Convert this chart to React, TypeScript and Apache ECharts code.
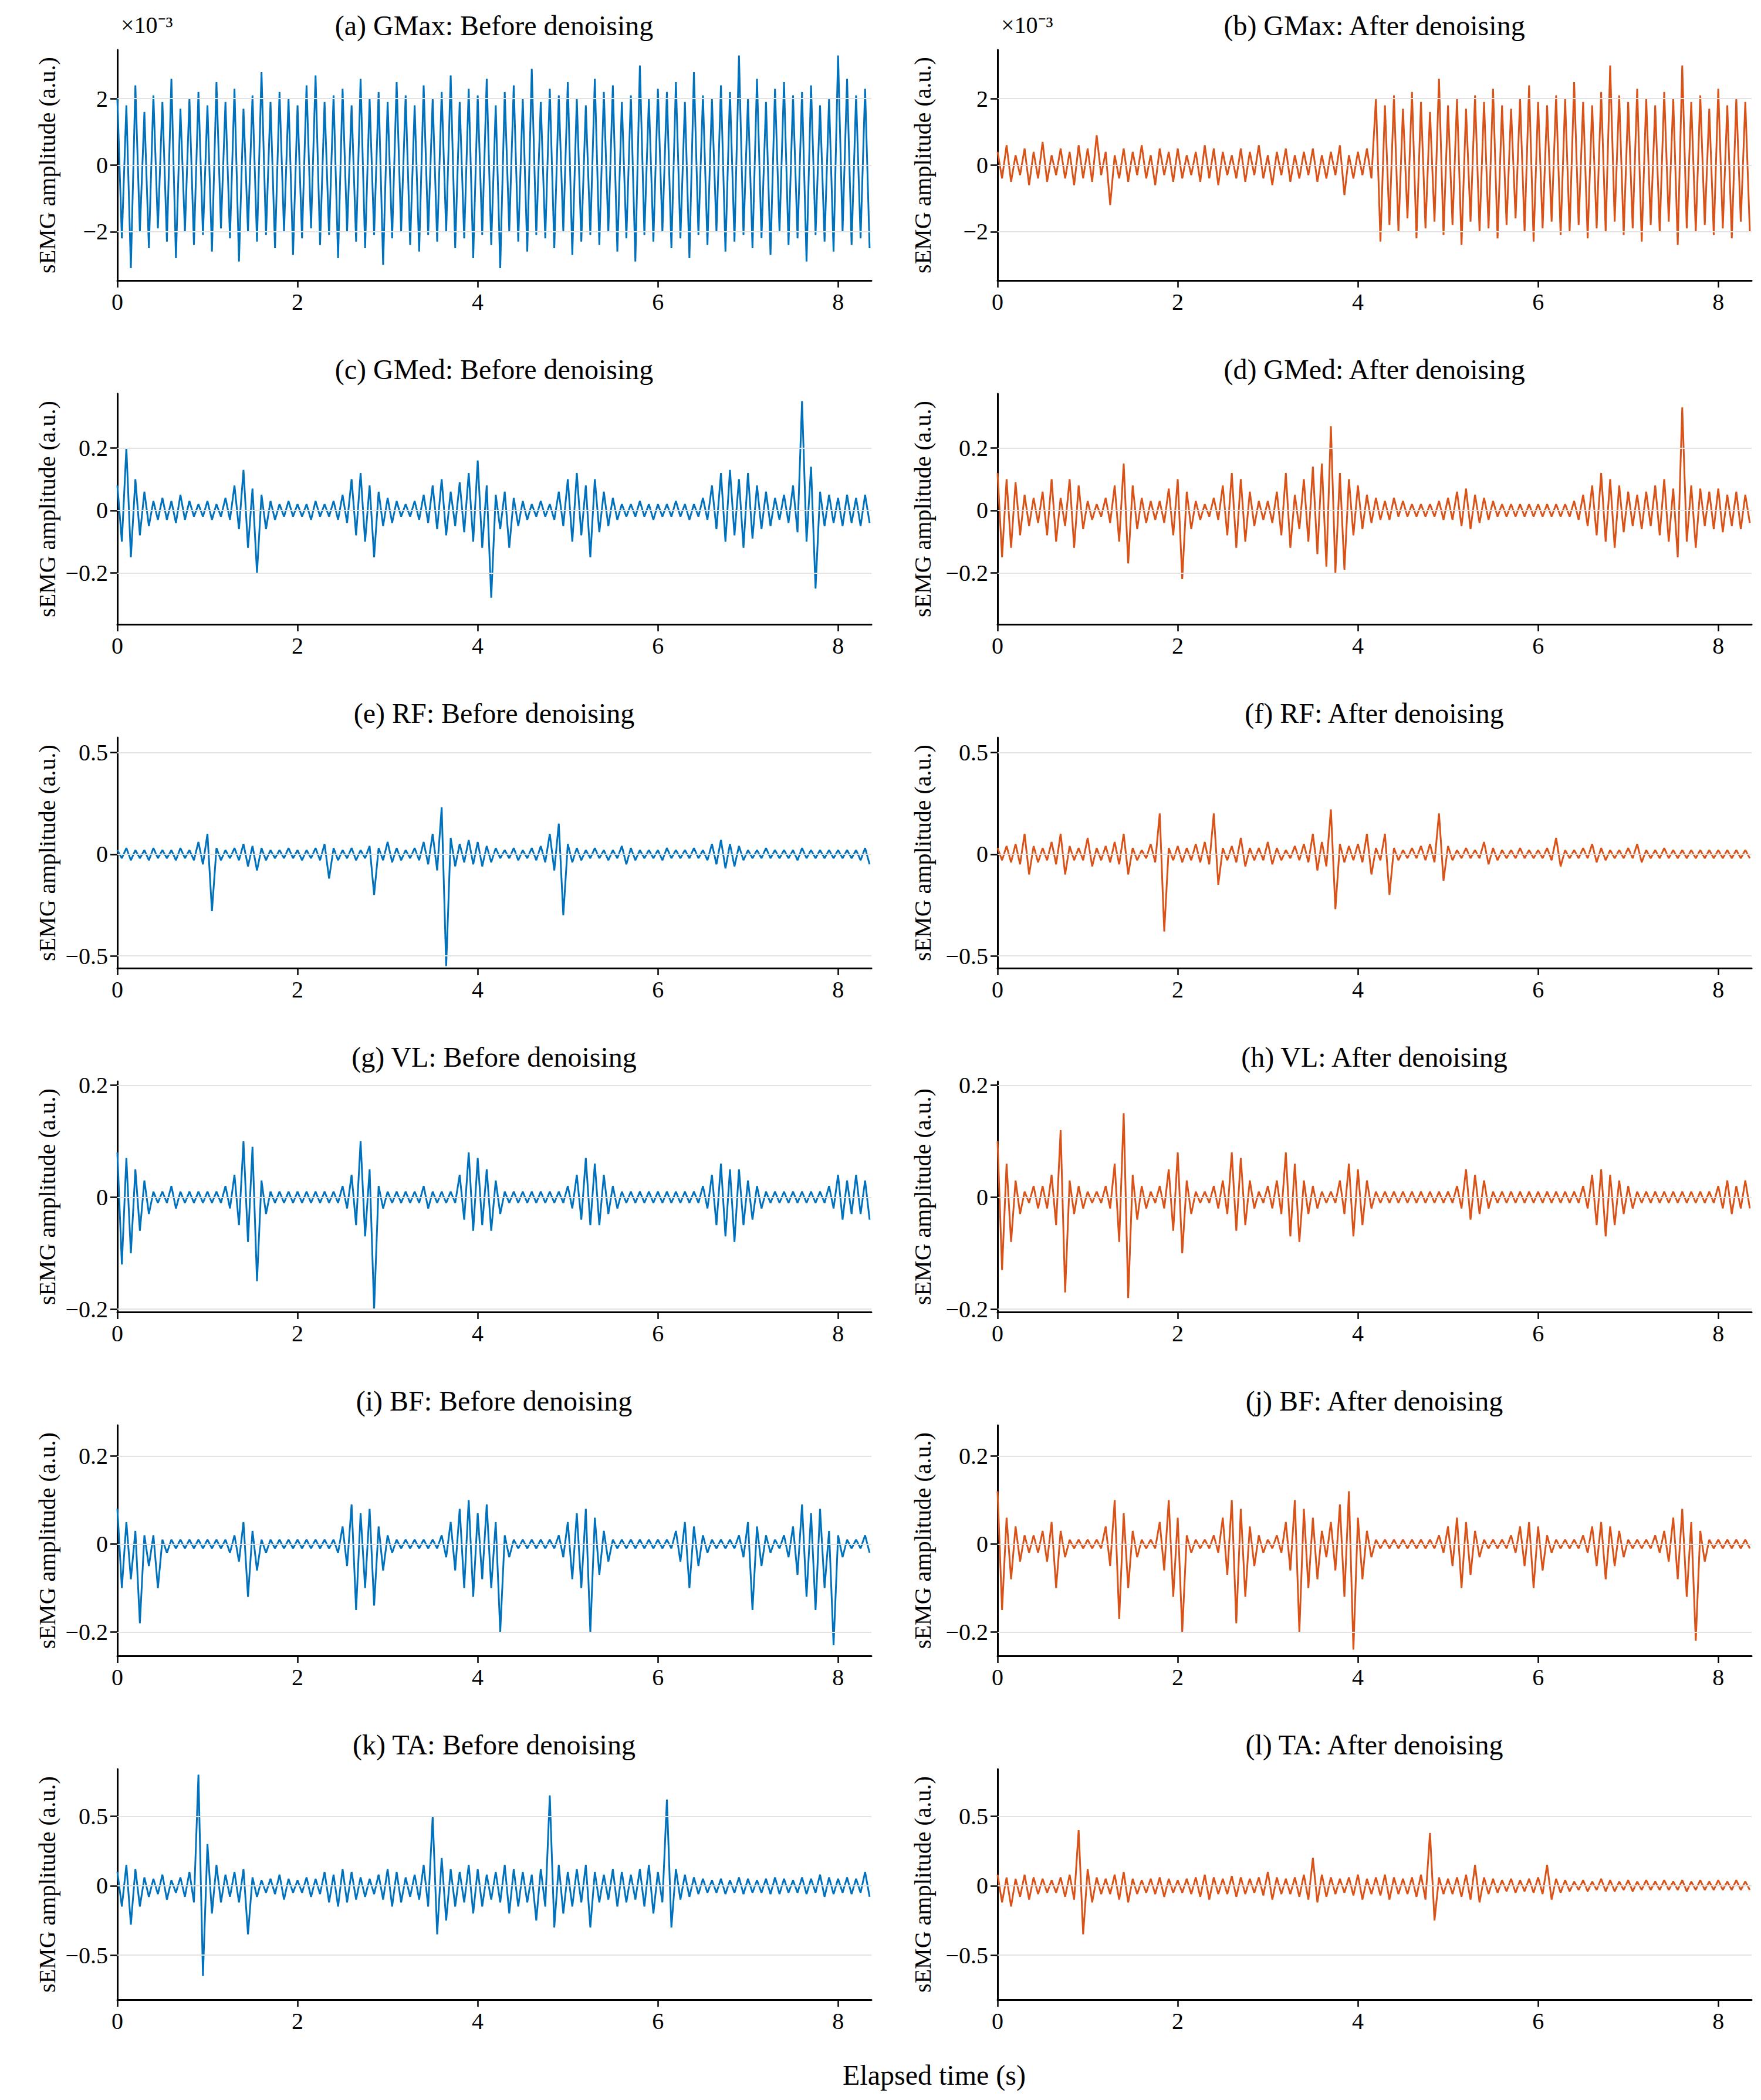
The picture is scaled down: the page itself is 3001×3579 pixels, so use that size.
import React, { useEffect, useRef } from "react";
import * as echarts from "echarts";

const titles = [
  "(a) GMax: Before denoising", "(b) GMax: After denoising",
  "(c) GMed: Before denoising", "(d) GMed: After denoising",
  "(e) RF: Before denoising", "(f) RF: After denoising",
  "(g) VL: Before denoising", "(h) VL: After denoising",
  "(i) BF: Before denoising", "(j) BF: After denoising",
  "(k) TA: Before denoising", "(l) TA: After denoising",
];
const yRanges = [[-3.47, 3.47], [-3.47, 3.47], [-0.365, 0.374], [-0.365, 0.374], [-0.56, 0.573], [-0.56, 0.573], [-0.205, 0.207], [-0.205, 0.207], [-0.254, 0.27], [-0.254, 0.27], [-0.82, 0.84], [-0.82, 0.84]];
const yTicks = [[-2, 0, 2], [-2, 0, 2], [-0.2, 0, 0.2], [-0.2, 0, 0.2], [-0.5, 0, 0.5], [-0.5, 0, 0.5], [-0.2, 0, 0.2], [-0.2, 0, 0.2], [-0.2, 0, 0.2], [-0.2, 0, 0.2], [-0.5, 0, 0.5], [-0.5, 0, 0.5]];
const xTicks = [0, 2, 4, 6, 8];
const step = 0.1;

// upper / lower envelope peaks every 0.1 s (GMax in units of 1e-3)
const aU = [2.0,1.8,2.4,1.6,2.1,1.9,2.6,1.7,2.0,2.2,1.8,2.5,1.9,2.3,1.7,2.1,2.8,1.9,2.2,2.0,1.8,2.4,2.7,1.9,2.1,2.3,1.8,2.6,2.0,2.2,1.9,2.5,2.1,1.8,2.4,2.0,2.2,2.7,1.9,2.3,2.1,2.6,1.8,2.2,2.4,2.0,2.9,1.9,2.3,2.1,2.5,2.0,1.8,2.6,2.2,2.4,1.9,2.1,3.0,2.0,2.3,2.2,2.5,1.9,2.8,2.1,2.0,2.4,2.2,3.3,2.0,2.6,1.9,2.3,2.5,2.1,2.2,2.4,1.8,2.0,3.3,2.6,2.1,2.3,1.9];
const aL = [-2.2,-3.1,-2.0,-2.5,-1.9,-2.3,-2.8,-2.0,-2.4,-2.1,-2.6,-1.9,-2.2,-2.9,-2.0,-2.3,-2.1,-2.5,-2.0,-2.7,-2.2,-1.9,-2.4,-2.1,-2.8,-2.0,-2.3,-2.5,-2.1,-3.0,-2.2,-2.0,-2.4,-2.6,-2.1,-2.3,-2.0,-2.5,-2.2,-2.8,-2.1,-2.4,-3.1,-2.0,-2.3,-2.6,-2.1,-2.2,-2.5,-2.0,-2.7,-2.3,-2.1,-2.4,-2.0,-2.6,-2.2,-2.9,-2.1,-2.3,-2.0,-2.5,-2.2,-2.8,-2.1,-2.4,-2.0,-2.6,-2.3,-2.1,-2.5,-2.2,-2.7,-2.0,-2.4,-2.2,-2.9,-2.1,-2.3,-2.6,-2.0,-2.4,-2.2,-2.5,-2.1];
const bU = [0.4,0.6,0.3,0.5,0.4,0.7,0.3,0.5,0.4,0.6,0.5,0.9,0.4,0.3,0.5,0.4,0.6,0.3,0.5,0.4,0.5,0.3,0.4,0.6,0.5,0.4,0.3,0.5,0.4,0.6,0.3,0.4,0.5,0.3,0.4,0.5,0.3,0.4,0.6,0.3,0.4,0.5,2.0,1.8,2.1,1.7,2.2,1.9,1.6,2.6,1.8,2.0,1.7,2.1,1.9,2.3,1.8,1.7,2.0,2.4,1.9,1.8,2.1,2.0,2.5,1.9,1.8,2.2,3.0,2.1,1.9,2.3,2.0,1.8,2.2,2.0,3.0,1.9,2.1,1.7,2.3,1.8,2.0,1.9,2.2];
const bL = [-0.4,-0.5,-0.3,-0.6,-0.4,-0.5,-0.3,-0.4,-0.6,-0.4,-0.5,-0.3,-1.2,-0.4,-0.5,-0.3,-0.4,-0.6,-0.3,-0.5,-0.4,-0.3,-0.5,-0.4,-0.6,-0.3,-0.4,-0.5,-0.3,-0.4,-0.6,-0.3,-0.5,-0.4,-0.3,-0.5,-0.4,-0.3,-0.9,-0.4,-0.3,-0.4,-2.3,-1.8,-2.0,-1.6,-2.2,-1.9,-1.7,-2.1,-1.8,-2.4,-1.7,-2.0,-1.9,-2.2,-1.8,-1.6,-2.0,-2.3,-1.9,-1.7,-2.1,-2.0,-1.8,-2.2,-1.9,-2.0,-1.7,-2.1,-1.9,-2.3,-1.8,-2.0,-1.7,-2.4,-1.9,-2.0,-1.8,-2.1,-1.9,-2.2,-1.7,-2.0,-1.8];
const cU = [0.08,0.2,0.1,0.06,0.03,0.04,0.03,0.05,0.03,0.02,0.03,0.02,0.04,0.08,0.13,0.07,0.05,0.03,0.02,0.03,0.02,0.02,0.03,0.02,0.03,0.05,0.1,0.12,0.08,0.06,0.04,0.03,0.02,0.03,0.05,0.08,0.1,0.06,0.09,0.12,0.16,0.08,0.05,0.06,0.04,0.03,0.02,0.03,0.02,0.06,0.1,0.12,0.08,0.1,0.06,0.04,0.02,0.02,0.03,0.02,0.02,0.02,0.03,0.02,0.02,0.04,0.08,0.12,0.13,0.1,0.12,0.08,0.06,0.04,0.05,0.08,0.35,0.14,0.06,0.05,0.04,0.05,0.04,0.05,0.04];
const cL = [-0.1,-0.15,-0.08,-0.05,-0.03,-0.03,-0.04,-0.03,-0.02,-0.02,-0.03,-0.02,-0.03,-0.06,-0.12,-0.2,-0.06,-0.03,-0.02,-0.02,-0.02,-0.03,-0.02,-0.02,-0.03,-0.04,-0.08,-0.1,-0.15,-0.05,-0.04,-0.02,-0.02,-0.03,-0.04,-0.06,-0.08,-0.05,-0.07,-0.1,-0.12,-0.28,-0.06,-0.12,-0.05,-0.03,-0.02,-0.02,-0.03,-0.05,-0.1,-0.08,-0.15,-0.07,-0.05,-0.03,-0.02,-0.02,-0.02,-0.03,-0.02,-0.02,-0.02,-0.03,-0.02,-0.03,-0.06,-0.1,-0.08,-0.12,-0.09,-0.06,-0.05,-0.03,-0.04,-0.07,-0.1,-0.25,-0.05,-0.04,-0.05,-0.04,-0.05,-0.04,-0.05];
const dU = [0.12,0.1,0.09,0.05,0.04,0.06,0.1,0.04,0.1,0.08,0.03,0.02,0.04,0.08,0.15,0.08,0.04,0.03,0.03,0.07,0.1,0.06,0.03,0.02,0.04,0.08,0.12,0.1,0.06,0.03,0.03,0.06,0.12,0.05,0.1,0.14,0.15,0.27,0.12,0.1,0.08,0.05,0.04,0.03,0.04,0.03,0.02,0.02,0.02,0.03,0.04,0.06,0.07,0.05,0.04,0.03,0.02,0.02,0.02,0.02,0.02,0.02,0.02,0.02,0.03,0.05,0.08,0.12,0.1,0.08,0.06,0.05,0.06,0.08,0.1,0.07,0.33,0.08,0.07,0.06,0.07,0.05,0.06,0.05,0.06];
const dL = [-0.15,-0.12,-0.08,-0.05,-0.04,-0.08,-0.1,-0.05,-0.12,-0.06,-0.03,-0.02,-0.04,-0.1,-0.17,-0.06,-0.04,-0.03,-0.04,-0.08,-0.22,-0.06,-0.03,-0.02,-0.03,-0.08,-0.12,-0.1,-0.05,-0.03,-0.04,-0.08,-0.12,-0.06,-0.1,-0.14,-0.18,-0.2,-0.19,-0.08,-0.06,-0.04,-0.03,-0.03,-0.02,-0.02,-0.02,-0.02,-0.02,-0.03,-0.03,-0.05,-0.06,-0.04,-0.03,-0.02,-0.02,-0.02,-0.02,-0.02,-0.02,-0.02,-0.02,-0.02,-0.03,-0.05,-0.08,-0.1,-0.12,-0.07,-0.05,-0.06,-0.05,-0.08,-0.1,-0.15,-0.1,-0.12,-0.05,-0.06,-0.07,-0.05,-0.06,-0.04,-0.05];
const eU = [0.02,0.03,0.02,0.02,0.03,0.02,0.02,0.03,0.02,0.06,0.1,0.03,0.02,0.03,0.05,0.04,0.03,0.02,0.02,0.03,0.02,0.02,0.03,0.05,0.03,0.02,0.03,0.02,0.04,0.03,0.06,0.03,0.02,0.03,0.06,0.1,0.23,0.08,0.05,0.07,0.06,0.04,0.03,0.02,0.03,0.02,0.03,0.04,0.1,0.15,0.05,0.03,0.02,0.03,0.02,0.02,0.04,0.03,0.02,0.02,0.02,0.03,0.02,0.02,0.03,0.02,0.05,0.07,0.05,0.04,0.02,0.02,0.03,0.02,0.02,0.02,0.03,0.02,0.02,0.02,0.02,0.02,0.02,0.03,0.1];
const eL = [-0.02,-0.03,-0.02,-0.03,-0.02,-0.02,-0.03,-0.02,-0.03,-0.05,-0.28,-0.03,-0.02,-0.03,-0.06,-0.08,-0.03,-0.02,-0.02,-0.02,-0.03,-0.02,-0.03,-0.12,-0.03,-0.02,-0.03,-0.02,-0.2,-0.03,-0.04,-0.03,-0.02,-0.03,-0.05,-0.08,-0.55,-0.06,-0.04,-0.05,-0.06,-0.04,-0.02,-0.02,-0.03,-0.02,-0.03,-0.04,-0.08,-0.3,-0.04,-0.03,-0.02,-0.02,-0.03,-0.02,-0.05,-0.03,-0.02,-0.02,-0.03,-0.02,-0.02,-0.02,-0.02,-0.03,-0.05,-0.07,-0.06,-0.03,-0.02,-0.02,-0.02,-0.02,-0.02,-0.03,-0.02,-0.02,-0.02,-0.02,-0.02,-0.02,-0.03,-0.05,-0.22];
const fU = [0.03,0.04,0.05,0.1,0.04,0.03,0.06,0.1,0.04,0.03,0.08,0.03,0.04,0.06,0.1,0.03,0.02,0.05,0.2,0.03,0.04,0.03,0.05,0.06,0.2,0.03,0.04,0.08,0.03,0.03,0.06,0.03,0.02,0.04,0.05,0.1,0.06,0.22,0.05,0.04,0.05,0.1,0.03,0.1,0.03,0.02,0.03,0.04,0.05,0.2,0.04,0.02,0.03,0.02,0.06,0.03,0.02,0.02,0.03,0.02,0.02,0.03,0.08,0.02,0.02,0.03,0.05,0.03,0.02,0.02,0.03,0.05,0.02,0.02,0.03,0.02,0.02,0.02,0.02,0.02,0.02,0.02,0.02,0.02,0.1];
const fL = [-0.03,-0.04,-0.05,-0.1,-0.04,-0.03,-0.05,-0.1,-0.03,-0.03,-0.06,-0.03,-0.04,-0.05,-0.1,-0.03,-0.02,-0.04,-0.38,-0.03,-0.04,-0.03,-0.04,-0.05,-0.15,-0.03,-0.04,-0.06,-0.03,-0.03,-0.05,-0.03,-0.02,-0.03,-0.04,-0.08,-0.06,-0.27,-0.04,-0.03,-0.04,-0.1,-0.03,-0.2,-0.03,-0.02,-0.02,-0.03,-0.04,-0.13,-0.03,-0.02,-0.02,-0.02,-0.05,-0.03,-0.02,-0.02,-0.02,-0.02,-0.02,-0.03,-0.06,-0.02,-0.02,-0.02,-0.04,-0.03,-0.02,-0.02,-0.02,-0.04,-0.02,-0.02,-0.02,-0.02,-0.02,-0.02,-0.02,-0.02,-0.02,-0.02,-0.02,-0.02,-0.1];
const gU = [0.08,0.07,0.05,0.03,0.01,0.01,0.02,0.01,0.01,0.01,0.01,0.01,0.02,0.04,0.1,0.09,0.03,0.01,0.01,0.01,0.01,0.01,0.01,0.01,0.01,0.02,0.04,0.1,0.05,0.02,0.01,0.01,0.01,0.01,0.02,0.01,0.01,0.01,0.04,0.08,0.07,0.05,0.03,0.01,0.01,0.01,0.01,0.01,0.01,0.01,0.02,0.04,0.07,0.06,0.04,0.02,0.01,0.01,0.01,0.01,0.01,0.01,0.01,0.01,0.01,0.02,0.04,0.06,0.05,0.05,0.03,0.02,0.01,0.01,0.01,0.01,0.01,0.01,0.01,0.02,0.04,0.03,0.04,0.03,0.02];
const gL = [-0.12,-0.1,-0.06,-0.03,-0.01,-0.01,-0.02,-0.01,-0.01,-0.01,-0.01,-0.01,-0.02,-0.05,-0.08,-0.15,-0.03,-0.01,-0.01,-0.01,-0.01,-0.01,-0.01,-0.01,-0.01,-0.02,-0.05,-0.07,-0.2,-0.02,-0.01,-0.01,-0.01,-0.01,-0.02,-0.01,-0.01,-0.01,-0.04,-0.06,-0.05,-0.06,-0.03,-0.01,-0.01,-0.01,-0.01,-0.01,-0.01,-0.01,-0.02,-0.04,-0.05,-0.05,-0.03,-0.02,-0.01,-0.01,-0.01,-0.01,-0.01,-0.01,-0.01,-0.01,-0.01,-0.02,-0.05,-0.07,-0.08,-0.05,-0.04,-0.02,-0.01,-0.01,-0.01,-0.01,-0.01,-0.01,-0.01,-0.02,-0.04,-0.03,-0.03,-0.04,-0.03];
const hU = [0.1,0.06,0.03,0.01,0.02,0.02,0.04,0.12,0.03,0.02,0.01,0.01,0.02,0.06,0.15,0.04,0.02,0.01,0.02,0.05,0.08,0.03,0.01,0.01,0.02,0.03,0.08,0.07,0.03,0.01,0.02,0.03,0.08,0.06,0.03,0.02,0.01,0.01,0.03,0.06,0.05,0.03,0.01,0.01,0.01,0.01,0.01,0.01,0.01,0.01,0.01,0.02,0.05,0.04,0.03,0.01,0.01,0.01,0.01,0.01,0.01,0.01,0.01,0.01,0.01,0.02,0.04,0.05,0.04,0.03,0.02,0.01,0.01,0.01,0.01,0.01,0.01,0.01,0.01,0.01,0.02,0.03,0.02,0.03,0.02];
const hL = [-0.13,-0.08,-0.03,-0.01,-0.02,-0.02,-0.05,-0.17,-0.03,-0.02,-0.01,-0.01,-0.02,-0.08,-0.18,-0.04,-0.02,-0.01,-0.02,-0.06,-0.1,-0.03,-0.01,-0.01,-0.02,-0.03,-0.06,-0.05,-0.02,-0.01,-0.02,-0.03,-0.07,-0.08,-0.03,-0.02,-0.01,-0.01,-0.03,-0.07,-0.05,-0.02,-0.01,-0.01,-0.01,-0.01,-0.01,-0.01,-0.01,-0.01,-0.01,-0.02,-0.04,-0.03,-0.02,-0.01,-0.01,-0.01,-0.01,-0.01,-0.01,-0.01,-0.01,-0.01,-0.01,-0.02,-0.05,-0.07,-0.05,-0.03,-0.02,-0.01,-0.01,-0.01,-0.01,-0.01,-0.01,-0.01,-0.01,-0.01,-0.02,-0.03,-0.02,-0.02,-0.02];
const iU = [0.08,0.05,0.03,0.02,0.02,0.01,0.01,0.01,0.01,0.01,0.01,0.01,0.01,0.02,0.05,0.03,0.01,0.01,0.01,0.01,0.01,0.01,0.01,0.01,0.01,0.04,0.09,0.07,0.08,0.04,0.02,0.01,0.01,0.01,0.01,0.01,0.02,0.05,0.08,0.1,0.07,0.09,0.05,0.02,0.01,0.01,0.01,0.01,0.01,0.02,0.05,0.07,0.08,0.06,0.03,0.01,0.01,0.01,0.01,0.01,0.01,0.01,0.03,0.05,0.04,0.02,0.01,0.01,0.01,0.02,0.05,0.04,0.02,0.01,0.02,0.04,0.09,0.07,0.08,0.03,0.02,0.01,0.01,0.02,0.02];
const iL = [-0.1,-0.08,-0.18,-0.05,-0.1,-0.02,-0.01,-0.01,-0.01,-0.01,-0.01,-0.01,-0.02,-0.04,-0.12,-0.06,-0.02,-0.01,-0.01,-0.01,-0.01,-0.01,-0.01,-0.01,-0.02,-0.05,-0.15,-0.1,-0.14,-0.06,-0.02,-0.01,-0.01,-0.01,-0.01,-0.01,-0.03,-0.06,-0.1,-0.12,-0.08,-0.1,-0.2,-0.03,-0.01,-0.01,-0.01,-0.01,-0.01,-0.03,-0.08,-0.1,-0.2,-0.07,-0.04,-0.01,-0.01,-0.01,-0.01,-0.01,-0.01,-0.01,-0.04,-0.1,-0.05,-0.02,-0.01,-0.01,-0.01,-0.03,-0.15,-0.05,-0.02,-0.01,-0.03,-0.07,-0.12,-0.15,-0.1,-0.23,-0.03,-0.01,-0.01,-0.02,-0.1];
const jU = [0.12,0.06,0.04,0.02,0.02,0.03,0.05,0.03,0.01,0.01,0.01,0.01,0.04,0.1,0.07,0.03,0.01,0.01,0.05,0.1,0.06,0.02,0.01,0.01,0.02,0.06,0.1,0.08,0.04,0.02,0.01,0.02,0.05,0.1,0.08,0.06,0.03,0.05,0.09,0.12,0.06,0.03,0.01,0.01,0.01,0.01,0.01,0.01,0.01,0.02,0.04,0.06,0.05,0.03,0.01,0.01,0.01,0.02,0.04,0.05,0.04,0.02,0.01,0.01,0.01,0.02,0.04,0.05,0.04,0.03,0.01,0.01,0.01,0.02,0.03,0.06,0.08,0.05,0.03,0.01,0.01,0.01,0.01,0.01,0.02];
const jL = [-0.15,-0.08,-0.04,-0.02,-0.02,-0.04,-0.1,-0.03,-0.01,-0.01,-0.01,-0.01,-0.05,-0.17,-0.1,-0.03,-0.01,-0.01,-0.06,-0.12,-0.2,-0.02,-0.01,-0.01,-0.02,-0.07,-0.18,-0.12,-0.05,-0.02,-0.01,-0.02,-0.06,-0.2,-0.1,-0.08,-0.03,-0.06,-0.12,-0.24,-0.08,-0.03,-0.01,-0.01,-0.01,-0.01,-0.01,-0.01,-0.01,-0.02,-0.05,-0.1,-0.07,-0.03,-0.01,-0.01,-0.01,-0.02,-0.05,-0.1,-0.06,-0.02,-0.01,-0.01,-0.01,-0.02,-0.05,-0.08,-0.05,-0.03,-0.01,-0.01,-0.01,-0.02,-0.04,-0.08,-0.12,-0.22,-0.04,-0.01,-0.01,-0.01,-0.01,-0.01,-0.05];
const kU = [0.1,0.15,0.12,0.06,0.05,0.08,0.04,0.06,0.1,0.8,0.3,0.15,0.08,0.1,0.12,0.06,0.04,0.05,0.08,0.05,0.04,0.06,0.05,0.1,0.08,0.12,0.1,0.06,0.05,0.08,0.12,0.1,0.06,0.08,0.15,0.5,0.2,0.12,0.1,0.15,0.12,0.08,0.1,0.15,0.12,0.1,0.08,0.12,0.65,0.15,0.1,0.12,0.15,0.1,0.08,0.12,0.1,0.08,0.12,0.15,0.1,0.62,0.12,0.08,0.06,0.05,0.04,0.05,0.04,0.06,0.05,0.04,0.05,0.06,0.05,0.04,0.06,0.05,0.08,0.06,0.05,0.06,0.05,0.1,0.06];
const kL = [-0.15,-0.28,-0.15,-0.08,-0.06,-0.1,-0.05,-0.08,-0.12,-0.65,-0.2,-0.12,-0.08,-0.12,-0.35,-0.08,-0.05,-0.06,-0.1,-0.05,-0.05,-0.08,-0.06,-0.12,-0.15,-0.12,-0.1,-0.08,-0.06,-0.1,-0.15,-0.12,-0.08,-0.1,-0.15,-0.35,-0.25,-0.15,-0.12,-0.2,-0.15,-0.1,-0.12,-0.2,-0.15,-0.12,-0.25,-0.15,-0.3,-0.2,-0.15,-0.12,-0.3,-0.12,-0.1,-0.15,-0.12,-0.1,-0.15,-0.2,-0.12,-0.3,-0.1,-0.08,-0.06,-0.05,-0.05,-0.06,-0.05,-0.06,-0.05,-0.05,-0.06,-0.06,-0.05,-0.05,-0.06,-0.05,-0.08,-0.06,-0.05,-0.06,-0.05,-0.08,-0.06];
const lU = [0.08,0.06,0.05,0.08,0.06,0.05,0.04,0.06,0.08,0.4,0.12,0.06,0.05,0.08,0.1,0.05,0.04,0.05,0.06,0.05,0.04,0.05,0.06,0.08,0.06,0.05,0.07,0.06,0.05,0.06,0.1,0.06,0.05,0.06,0.08,0.2,0.08,0.06,0.05,0.06,0.08,0.05,0.06,0.08,0.06,0.05,0.06,0.08,0.38,0.06,0.05,0.06,0.08,0.15,0.06,0.05,0.04,0.05,0.04,0.05,0.06,0.15,0.05,0.04,0.03,0.04,0.03,0.05,0.04,0.03,0.04,0.03,0.04,0.03,0.04,0.03,0.04,0.03,0.04,0.03,0.04,0.03,0.04,0.03,0.04];
const lL = [-0.12,-0.15,-0.08,-0.1,-0.06,-0.05,-0.05,-0.08,-0.1,-0.35,-0.12,-0.06,-0.06,-0.1,-0.12,-0.06,-0.05,-0.06,-0.08,-0.05,-0.05,-0.06,-0.08,-0.1,-0.06,-0.06,-0.08,-0.06,-0.05,-0.07,-0.1,-0.06,-0.06,-0.08,-0.1,-0.12,-0.08,-0.06,-0.05,-0.07,-0.1,-0.06,-0.07,-0.1,-0.06,-0.06,-0.08,-0.1,-0.25,-0.06,-0.06,-0.08,-0.1,-0.12,-0.06,-0.05,-0.04,-0.05,-0.04,-0.05,-0.06,-0.1,-0.05,-0.04,-0.03,-0.04,-0.03,-0.04,-0.04,-0.03,-0.04,-0.03,-0.03,-0.03,-0.03,-0.03,-0.04,-0.03,-0.03,-0.03,-0.03,-0.03,-0.03,-0.03,-0.03];

const uppers = [aU, bU, cU, dU, eU, fU, gU, hU, iU, jU, kU, lU];
const lowers = [aL, bL, cL, dL, eL, fL, gL, hL, iL, jL, kL, lL];

const XMAX = 8.37;
const FONT = "Liberation Serif";

function buildOption() {
  const grid: any[] = [], xAxis: any[] = [], yAxis: any[] = [], series: any[] = [], graphic: any[] = [];
  for (let p = 0; p < 12; p++) {
    const col = p % 2, row = Math.floor(p / 2);
    const left = col === 0 ? 200 : 1700;
    const top = 85 + 586 * row;
    grid.push({ left, top, width: 1285, height: 393 });
    xAxis.push({
      gridIndex: p, type: "value", min: 0, max: XMAX,
      axisLine: { onZero: false, lineStyle: { color: "#000", width: 3 } },
      axisTick: { show: true, length: 12, lineStyle: { color: "#000", width: 2.5 }, customValues: xTicks },
      axisLabel: { color: "#000", fontSize: 40, fontFamily: FONT, margin: 16, customValues: xTicks },
      splitLine: { show: false },
    });
    yAxis.push({
      gridIndex: p, type: "value", min: yRanges[p][0], max: yRanges[p][1],
      name: "sEMG amplitude (a.u.)", nameLocation: "middle", nameGap: col === 0 ? 100 : 108,
      nameTextStyle: { color: "#000", fontSize: 40, fontFamily: FONT },
      axisLine: { show: true, onZero: false, lineStyle: { color: "#000", width: 3 } },
      axisTick: { show: true, length: 12, lineStyle: { color: "#000", width: 2.5 }, customValues: yTicks[p] },
      axisLabel: { color: "#000", fontSize: 40, fontFamily: FONT, margin: 16, customValues: yTicks[p], formatter: (v: number) => (v < 0 ? "\u2212" + Math.abs(v) : String(v)) },
      splitLine: { show: false },
    });
    const U = uppers[p], L = lowers[p];
    const data: number[][] = [];
    for (let i = 0; i < U.length; i++) {
      const t = i * step;
      if (t <= XMAX) data.push([t, U[i]]);
      if (t + step / 2 <= XMAX && L[i] !== undefined) data.push([t + step / 2, L[i]]);
    }
    series.push({
      type: "line", xAxisIndex: p, yAxisIndex: p, data, symbol: "none",
      lineStyle: { color: col === 0 ? "#0072BD" : "#D95319", width: 3 },
      markLine: {
        silent: true, symbol: "none", label: { show: false },
        lineStyle: { color: "#e3e3e3", width: 2, type: "solid" },
        data: yTicks[p].map((v) => ({ yAxis: v })),
      },
    });
    graphic.push({
      type: "text", x: left + 642, y: top - 66,
      style: { text: titles[p], fill: "#000", font: `48px "${FONT}"`, textAlign: "center" },
    });
    if (p < 2) {
      graphic.push({
        type: "text", x: left + 6, y: 22,
        style: { text: "\u00d710\u207b\u00b3", fill: "#000", font: `40px "${FONT}"` },
      });
    }
  }
  graphic.push({
    type: "text", x: 1592, y: 3512,
    style: { text: "Elapsed time (s)", fill: "#000", font: `48px "${FONT}"`, textAlign: "center", textVerticalAlign: "top" },
  });
  return { animation: false, backgroundColor: "#fff", grid, xAxis, yAxis, series, graphic };
}

export default function App() {
  const ref = useRef<HTMLDivElement>(null);
  useEffect(() => {
    document.body.style.margin = "0";
    const chart = echarts.init(ref.current!, null, { renderer: "svg" });
    chart.setOption(buildOption() as any);
    return () => chart.dispose();
  }, []);
  return <div ref={ref} style={{ width: 3001, height: 3579 }} />;
}
